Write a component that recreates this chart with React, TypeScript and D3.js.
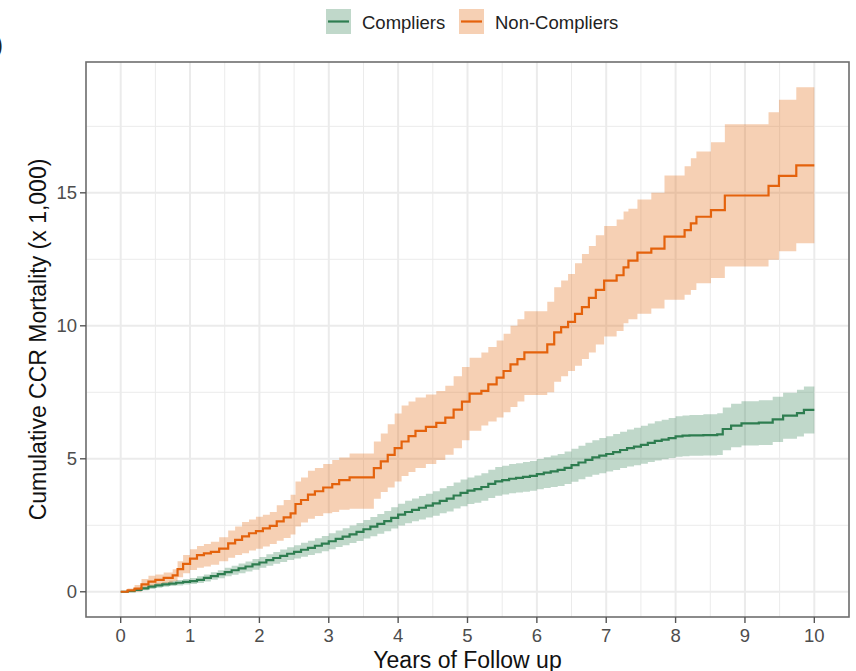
import React from "react";
import * as d3 from "d3";

// Follow-up time grid (years) and cumulative CCR mortality per 1,000, with 95% CI
const compliersTime = [
  0, 0.1, 0.2, 0.3, 0.4, 0.5, 0.6, 0.7, 0.8, 0.9, 1.0, 1.1, 1.2, 1.3, 1.4, 1.5, 1.6, 1.7, 1.8, 1.9,
  2.0, 2.1, 2.2, 2.3, 2.4, 2.5, 2.6, 2.7, 2.8, 2.9, 3.0, 3.1, 3.2, 3.3, 3.4, 3.5, 3.6, 3.7, 3.8, 3.9,
  4.0, 4.1, 4.2, 4.3, 4.4, 4.5, 4.6, 4.7, 4.8, 4.9, 5.0, 5.1, 5.2, 5.3, 5.4, 5.5, 5.6, 5.7, 5.8, 5.9,
  6.0, 6.1, 6.2, 6.3, 6.4, 6.5, 6.6, 6.7, 6.8, 6.9, 7.0, 7.1, 7.2, 7.3, 7.4, 7.5, 7.6, 7.7, 7.8, 7.9,
  8.0, 8.1, 8.2, 8.4, 8.6, 8.68, 8.8, 8.95, 9.2, 9.4, 9.55, 9.75, 9.85, 10.0,
];
const compliersEstimate = [
  0, 0.02, 0.07, 0.13, 0.19, 0.24, 0.28, 0.31, 0.34, 0.37, 0.4, 0.45, 0.52, 0.59, 0.66, 0.74, 0.81, 0.88, 0.95, 1.03,
  1.1, 1.19, 1.27, 1.35, 1.43, 1.5, 1.58, 1.65, 1.73, 1.81, 1.9, 1.99, 2.07, 2.16, 2.25, 2.35, 2.45, 2.55, 2.66, 2.78,
  2.9, 3.0, 3.08, 3.16, 3.24, 3.32, 3.42, 3.5, 3.62, 3.72, 3.8, 3.86, 3.94, 4.06, 4.15, 4.2, 4.25, 4.28, 4.32, 4.36,
  4.42, 4.48, 4.53, 4.58, 4.66, 4.76, 4.86, 4.96, 5.05, 5.12, 5.18, 5.25, 5.33, 5.4, 5.46, 5.52, 5.6, 5.67, 5.72, 5.78,
  5.84, 5.87, 5.88, 5.89, 5.92, 6.12, 6.25, 6.33, 6.36, 6.48, 6.62, 6.72, 6.84, 6.84,
];
const compliersLower = [
  0, 0.0, 0.02, 0.06, 0.1, 0.15, 0.19, 0.22, 0.24, 0.27, 0.29, 0.33, 0.39, 0.45, 0.51, 0.58, 0.64, 0.7, 0.76, 0.83,
  0.9, 0.98, 1.05, 1.12, 1.19, 1.25, 1.32, 1.38, 1.45, 1.52, 1.6, 1.68, 1.75, 1.83, 1.91, 2.0, 2.09, 2.18, 2.28, 2.38,
  2.49, 2.58, 2.65, 2.72, 2.79, 2.86, 2.95, 3.02, 3.13, 3.22, 3.3, 3.35, 3.42, 3.53, 3.61, 3.66, 3.7, 3.73, 3.76, 3.8,
  3.85, 3.9, 3.94, 3.98, 4.05, 4.14, 4.23, 4.32, 4.4, 4.46, 4.52, 4.58, 4.65, 4.71, 4.76, 4.81, 4.88, 4.94, 4.98, 5.03,
  5.08, 5.1, 5.11, 5.12, 5.14, 5.32, 5.43, 5.5, 5.52, 5.63, 5.75, 5.84, 5.95, 5.95,
];
const compliersUpper = [
  0, 0.06, 0.12, 0.2, 0.27, 0.33, 0.37, 0.41, 0.44, 0.48, 0.52, 0.58, 0.65, 0.73, 0.81, 0.9, 0.98, 1.06, 1.14, 1.23,
  1.31, 1.41, 1.5, 1.59, 1.67, 1.75, 1.84, 1.92, 2.01, 2.1, 2.2, 2.3, 2.39, 2.49, 2.59, 2.7, 2.81, 2.92, 3.04, 3.18,
  3.31, 3.42, 3.51, 3.6, 3.69, 3.78, 3.89, 3.98, 4.11, 4.22, 4.3, 4.37, 4.46, 4.59, 4.69, 4.74, 4.8, 4.83, 4.88, 4.92,
  4.99, 5.06, 5.12, 5.18, 5.27, 5.38, 5.49, 5.6, 5.7, 5.78, 5.85, 5.93, 6.02, 6.1, 6.17, 6.24, 6.33, 6.41, 6.47, 6.53,
  6.6, 6.63, 6.65, 6.67, 6.71, 6.93, 7.07, 7.16, 7.2, 7.33, 7.48, 7.6, 7.72, 7.72,
];

const nonCompliersTime = [
  0, 0.1, 0.2, 0.3, 0.4, 0.5, 0.62, 0.75, 0.82, 0.9, 1.0, 1.1, 1.2, 1.3, 1.42, 1.55, 1.65, 1.75, 1.85, 1.95,
  2.05, 2.15, 2.25, 2.35, 2.45, 2.52, 2.6, 2.7, 2.8, 2.92, 3.05, 3.15, 3.3, 3.65, 3.75, 3.85, 3.95, 4.05, 4.15, 4.25,
  4.4, 4.55, 4.68, 4.8, 4.92, 5.03, 5.2, 5.3, 5.42, 5.52, 5.62, 5.72, 5.82, 6.15, 6.25, 6.35, 6.45, 6.55, 6.65, 6.75,
  6.85, 6.97, 7.15, 7.25, 7.32, 7.45, 7.65, 7.84, 8.13, 8.22, 8.3, 8.51, 8.71, 9.34, 9.49, 9.74, 10.0,
];
const nonCompliersEstimate = [
  0, 0.05, 0.12, 0.28, 0.38, 0.45, 0.52, 0.62, 0.85, 1.05, 1.25, 1.38, 1.44, 1.5, 1.62, 1.82, 1.95, 2.08, 2.2, 2.28,
  2.38, 2.48, 2.65, 2.8, 2.95, 3.3, 3.45, 3.65, 3.78, 3.92, 4.05, 4.2, 4.3, 4.65, 4.9, 5.15, 5.4, 5.65, 5.85, 6.05,
  6.2, 6.35, 6.55, 6.85, 7.15, 7.45, 7.55, 7.8, 8.05, 8.3, 8.55, 8.75, 9.0, 9.3, 9.75, 9.95, 10.15, 10.45, 10.7, 11.05,
  11.35, 11.7, 11.9, 12.2, 12.45, 12.75, 12.9, 13.35, 13.6, 13.85, 14.1, 14.35, 14.9, 15.26, 15.64, 16.03, 16.03,
];
const nonCompliersLower = [
  0, 0.0, 0.0, 0.1, 0.2, 0.28, 0.33, 0.4, 0.55, 0.7, 0.82, 0.9, 0.95, 1.02, 1.15, 1.28, 1.38, 1.45, 1.55, 1.62,
  1.7, 1.8, 1.92, 2.02, 2.15, 2.45, 2.6, 2.75, 2.85, 2.95, 3.0, 3.08, 3.12, 3.5, 3.75, 3.92, 4.15, 4.35, 4.5, 4.65,
  4.8, 4.95, 5.15, 5.4, 5.7, 6.05, 6.25, 6.4, 6.55, 6.75, 6.95, 7.15, 7.4, 7.5, 7.9, 8.1, 8.3, 8.5, 8.75, 9.0,
  9.3, 9.6, 9.8, 10.1, 10.25, 10.45, 10.65, 10.98, 11.17, 11.35, 11.6, 11.8, 12.23, 12.48, 12.8, 13.1, 13.1,
];
const nonCompliersUpper = [
  0, 0.12, 0.25, 0.48, 0.6, 0.65, 0.72, 0.85, 1.15, 1.38, 1.6, 1.72, 1.8, 1.88, 2.05, 2.3, 2.45, 2.62, 2.72, 2.82,
  2.9, 3.0, 3.25, 3.45, 3.65, 4.15, 4.3, 4.55, 4.65, 4.8, 4.95, 5.05, 5.2, 5.65, 5.95, 6.3, 6.7, 7.0, 7.15, 7.3,
  7.42, 7.55, 7.75, 8.1, 8.45, 8.8, 9.0, 9.2, 9.45, 9.7, 10.0, 10.25, 10.55, 10.9, 11.45, 11.7, 11.95, 12.35, 12.7, 13.0,
  13.4, 13.75, 14.0, 14.3, 14.4, 14.75, 15.0, 15.65, 16.0, 16.3, 16.55, 16.9, 17.58, 18.03, 18.5, 18.97, 18.97,
];

const yearTicks = [0, 1, 2, 3, 4, 5, 6, 7, 8, 9, 10];
const mortalityTicks = [0, 5, 10, 15];
const groupLabels = ["Compliers", "Non-Compliers"];
const groupColors = ["#2e7d50", "#e4620c"];
const ribbonColors = ["#2e7d50", "#e16405"];

type Row = { t: number; est: number; lo: number; hi: number };

const toRows = (t: number[], e: number[], lo: number[], hi: number[]): Row[] =>
  t.map((v, i) => ({ t: v, est: e[i], lo: lo[i], hi: hi[i] }));

const groups = [
  toRows(compliersTime, compliersEstimate, compliersLower, compliersUpper),
  toRows(nonCompliersTime, nonCompliersEstimate, nonCompliersLower, nonCompliersUpper),
];

const W = 856;
const H = 671;
const M = { left: 86, right: 849, top: 62, bottom: 617 };
const FONT = "'Liberation Sans', Arial, Helvetica, sans-serif";

export default function App() {
  const xMin = 0;
  const xMax = 10;
  const yMin = 0;
  const yMax = d3.max(groups.flat(), (d) => d.hi) as number;
  const xPad = (xMax - xMin) * 0.05;
  const yPad = (yMax - yMin) * 0.05;

  const x = d3.scaleLinear().domain([xMin - xPad, xMax + xPad]).range([M.left, M.right]);
  const y = d3.scaleLinear().domain([yMin - yPad, yMax + yPad]).range([M.bottom, M.top]);

  const area = d3
    .area<Row>()
    .curve(d3.curveStepAfter)
    .x((d) => x(d.t))
    .y0((d) => y(d.lo))
    .y1((d) => y(d.hi));
  const line = d3
    .line<Row>()
    .curve(d3.curveStepAfter)
    .x((d) => x(d.t))
    .y((d) => y(d.est));

  const xMinor = d3.range(-0.5, 10.51, 1);
  const yMinor = [2.5, 7.5, 12.5, 17.5];

  return (
    <svg
      width={W}
      height={H}
      style={{ position: "absolute", left: 0, top: 0, display: "block", background: "#fff" }}
      fontFamily={FONT}
    >
      <rect x={0} y={0} width={W} height={H} fill="#fff" />
      {/* panel tag, cut at the left edge */}
      <text x={3} y={53} fontSize={23} textAnchor="end" fill="#222">
        b)
      </text>

      {/* grid */}
      <g stroke="#ebebeb">
        {xMinor.map((v) => (
          <line key={"xm" + v} x1={x(v)} x2={x(v)} y1={M.top} y2={M.bottom} strokeWidth={1} />
        ))}
        {yMinor.map((v) => (
          <line key={"ym" + v} x1={M.left} x2={M.right} y1={y(v)} y2={y(v)} strokeWidth={1} />
        ))}
        {yearTicks.map((v) => (
          <line key={"xg" + v} x1={x(v)} x2={x(v)} y1={M.top} y2={M.bottom} strokeWidth={2} />
        ))}
        {mortalityTicks.map((v) => (
          <line key={"yg" + v} x1={M.left} x2={M.right} y1={y(v)} y2={y(v)} strokeWidth={2} />
        ))}
      </g>

      {/* confidence ribbons */}
      {groups.map((g, i) => (
        <path key={"r" + i} d={area(g) || ""} fill={ribbonColors[i]} fillOpacity={0.3} />
      ))}
      {/* cumulative mortality curves */}
      {groups.map((g, i) => (
        <path key={"l" + i} d={line(g) || ""} fill="none" stroke={groupColors[i]} strokeWidth={2.2} />
      ))}

      {/* panel border */}
      <rect
        x={M.left}
        y={M.top}
        width={M.right - M.left}
        height={M.bottom - M.top}
        fill="none"
        stroke="#6e6e6e"
        strokeWidth={1.6}
      />

      {/* x axis */}
      <g>
        {yearTicks.map((v) => (
          <g key={"xt" + v}>
            <line x1={x(v)} x2={x(v)} y1={M.bottom} y2={M.bottom + 6} stroke="#555" strokeWidth={1.4} />
            <text x={x(v)} y={M.bottom + 25} fontSize={18.5} textAnchor="middle" fill="#4d4d4d">
              {v}
            </text>
          </g>
        ))}
        <text x={(M.left + M.right) / 2} y={668} fontSize={23} textAnchor="middle" fill="#111">
          Years of Follow up
        </text>
      </g>

      {/* y axis */}
      <g>
        {mortalityTicks.map((v) => (
          <g key={"yt" + v}>
            <line x1={M.left - 6} x2={M.left} y1={y(v)} y2={y(v)} stroke="#555" strokeWidth={1.4} />
            <text x={M.left - 9} y={y(v) + 6.5} fontSize={18.5} textAnchor="end" fill="#4d4d4d">
              {v}
            </text>
          </g>
        ))}
        <text
          transform={`translate(46, ${(M.top + M.bottom) / 2}) rotate(-90)`}
          fontSize={23}
          textAnchor="middle"
          fill="#111"
        >
          Cumulative CCR Mortality (x 1,000)
        </text>
      </g>

      {/* legend */}
      <g>
        {[
          { key: 326, text: 362 },
          { key: 459, text: 495 },
        ].map((p, i) => (
          <g key={"lg" + i}>
            <rect x={p.key} y={9} width={25} height={25} fill={ribbonColors[i]} fillOpacity={0.3} />
            <line x1={p.key + 2} x2={p.key + 23} y1={21.5} y2={21.5} stroke={groupColors[i]} strokeWidth={2.2} />
            <text x={p.text} y={28.5} fontSize={18.5} fill="#222">
              {groupLabels[i]}
            </text>
          </g>
        ))}
      </g>
    </svg>
  );
}
